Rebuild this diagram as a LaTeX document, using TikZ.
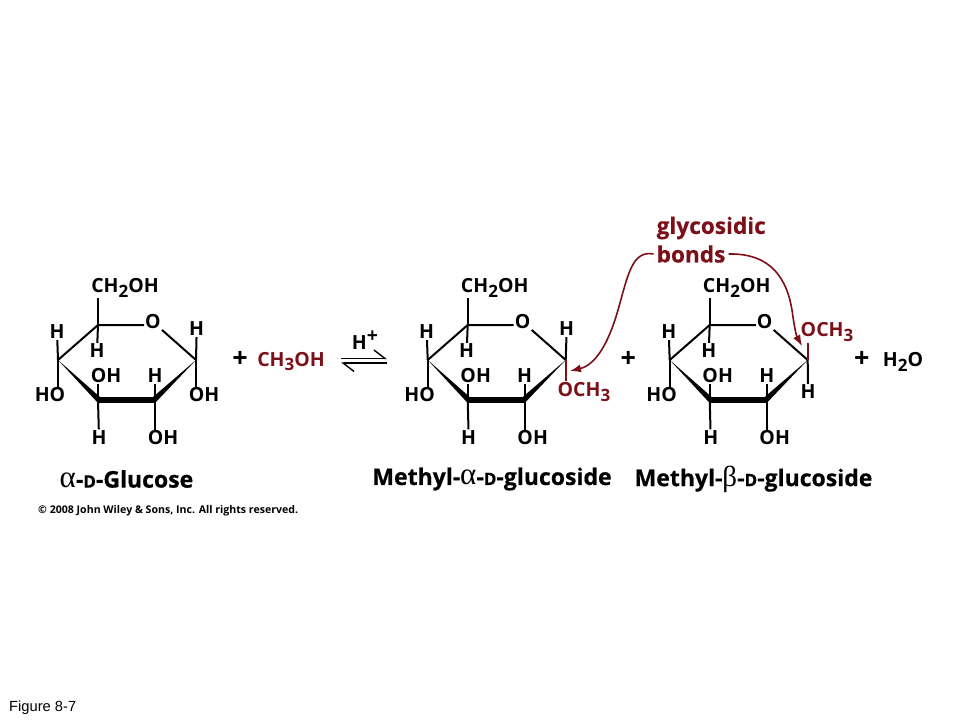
\documentclass[tikz,border=0pt]{standalone}
\usepackage{fontspec}
\setmainfont{Open Sans}
\newfontfamily\figfont{Liberation Sans}
\newfontfamily\greekfont{Liberation Serif}
\usetikzlibrary{arrows.meta}
\definecolor{bondred}{HTML}{7B1018}
\newcommand{\lowdig}[1]{\raisebox{-0.25em}{\fontsize{17}{17}\selectfont #1}}
\newcommand{\smalld}{{\fontsize{17}{17}\selectfont D}}
\newcommand{\titlealpha}{{\greekfont\mdseries\fontsize{31}{31}\selectfont α}}
\newcommand{\titlebeta}{{\greekfont\mdseries\fontsize{29}{29}\selectfont β}}
\tikzset{
  atom/.style={font=\bfseries\fontsize{19.5}{20}\selectfont,inner sep=1pt},
  redatom/.style={atom,text=bondred},
  plussign/.style={font=\bfseries\fontsize{27}{27}\selectfont,inner sep=0pt},
  biglabel/.style={font=\bfseries\addfontfeature{FakeBold=0.3}\fontsize{22.6}{23}\selectfont,text=bondred,inner sep=3pt,anchor=west},
  title/.style={font=\bfseries\addfontfeature{FakeBold=0.5}\fontsize{23}{24}\selectfont,inner sep=0pt},
  bond/.style={line width=2pt},
  redbond/.style={line width=2pt,draw=bondred},
  link/.style={line width=1.6pt,draw=bondred},
  pics/sugar/.style={code={
    % ring atoms, measured from the C5 corner
    \coordinate (-c5) at (0,0);
    \coordinate (-c1) at (98,35);
    \coordinate (-c2) at (57,75);
    \coordinate (-c3) at (0,75);
    \coordinate (-c4) at (-40,35);
    \node [atom] (-o) at (55,-3) {O};
    \node [atom] (-ch) at (27,-37.5) {CH\lowdig{2}OH};
    \node [atom] (-h5) at (-1,26) {H};
    \node [atom] (-h4) at (-41,7) {H};
    \node [atom] (-ho4) at (-48,70) {HO};
    \node [atom] (-oh3) at (8,51) {OH};
    \node [atom] (-h2) at (57,50.5) {H};
    \node [atom] (-h3) at (1,112.5) {H};
    \node [atom] (-oh2) at (65,113) {OH};
    % back of the ring
    \draw [bond] (-c4) -- (-c5) -- (-c5 -| -o.west);
    \draw [bond] (-o) -- (-c1);
    \draw [bond] (-c5) -- (-c5 |- -ch.south);
    \draw [bond] (-c5) -- (-h5);
    \draw [bond] (-c4) -- (-h4);
    \draw [bond] (-c4) -- (-c4 |- -ho4.north);
    \draw [bond] (-c3) -- (-c3 |- -oh3.south);
    \draw [bond] (-c3) -- (-h3);
    \draw [bond] (-c2) -- (-h2);
    \draw [bond] (-c2) -- (-c2 |- -oh2.north);
    % front of the ring
    \fill (-c4) -- ([shift={(2,-3)}]-c3) -- ([shift={(0,3)}]-c3) -- cycle;
    \fill ([shift={(0,-3)}]-c3) rectangle ([shift={(0,3)}]-c2);
    \fill (-c1) -- ([shift={(0,3)}]-c2) -- ([shift={(-2,-3)}]-c2) -- cycle;
  }}
}
\begin{document}
\begin{tikzpicture}[x=1pt,y=-1pt]
  \useasboundingbox (0,0) rectangle (960,720);
  \pic (ra) at (98,325) {sugar};
  \pic (rb) at (467.7,325) {sugar};
  \pic (rc) at (709.7,325) {sugar};
  % first sugar
  \node [atom] (ha) at (196.7,329) {H};
  \node [atom] (oha) at (204,395) {OH};
  \draw [bond] (ra-c1) -- (ha);
  \draw [bond] (ra-c1) -- (ra-c1 |- oha.north);
  \node [plussign] (plusa) at (240,359) {+};
  \node [redatom] (meoh) at (291,361.5) {CH\lowdig{3}OH};
  % equilibrium arrows
  \node [atom] (hplus) at (365,340) {H\raisebox{0.35em}{+}};
  \coordinate (eqal) at (341,358.5);
  \coordinate (eqar) at (387,358.5);
  \coordinate (eqbl) at (341,363);
  \coordinate (eqbr) at (387,363);
  \draw [line width=1.4pt,-{Straight Barb[left,length=11pt,width=17pt]}] (eqal) -- (eqar);
  \draw [line width=1.4pt,-{Straight Barb[left,length=11pt,width=17pt]}] (eqbr) -- (eqbl);
  % second sugar
  \node [atom] (hb) at (566.7,329) {H};
  \node [redatom] (ocb) at (584,392) {OCH\lowdig{3}};
  \draw [bond] (rb-c1) -- (hb);
  \draw [redbond] (rb-c1) -- (rb-c1 |- ocb.north);
  \node [plussign] (plusb) at (628.3,359) {+};
  % third sugar
  \node [redatom] (occ) at (827,332) {OCH\lowdig{3}};
  \node [atom] (hc) at (808,392) {H};
  \draw [bond] (rc-c1) -- (hc);
  \draw [redbond] (rc-c1) -- (rc-c1 |- occ.south);
  \node [plussign] (plusc) at (861.7,359) {+};
  \node [atom] (water) at (903,362) {H\lowdig{2}O};
  % bond labels
  \node [biglabel] (glyco) at (653.5,228) {glycosidic};
  \node [biglabel] (bonds) at (653.5,254) {bonds};
  \coordinate (tipb) at (570,371);
  \coordinate (tipc) at (802,346);
  \draw [link,-{Latex[length=11pt,width=8pt]}] (bonds.west) .. controls (632,250) and (628,275) .. (618,310)
    .. controls (608,345) and (595,365) .. (tipb);
  \draw [link,-{Latex[length=11pt,width=8pt]}] (bonds.east) .. controls (772,253) and (787,280) .. (792,310)
    .. controls (794,325) and (796,335) .. (tipc);
  % names
  \node [title] (namea) at (126.5,479) {\titlealpha-\smalld-Glucose};
  \node [title] (nameb) at (492,479) {Methyl-\titlealpha-\smalld-glucoside};
  \node [title] (namec) at (753.5,479) {Methyl-\titlebeta-\smalld-glucoside};
  \node [font=\bfseries\fontsize{10.6}{11}\selectfont,inner sep=0pt,anchor=west] (copy) at (38,510.5) {© 2008 John Wiley \& Sons, Inc. All rights reserved.};
  \node [font=\figfont\fontsize{14.7}{15}\selectfont,inner sep=0pt,anchor=west] (figno) at (9,707.5) {Figure 8-7};
\end{tikzpicture}
\end{document}
